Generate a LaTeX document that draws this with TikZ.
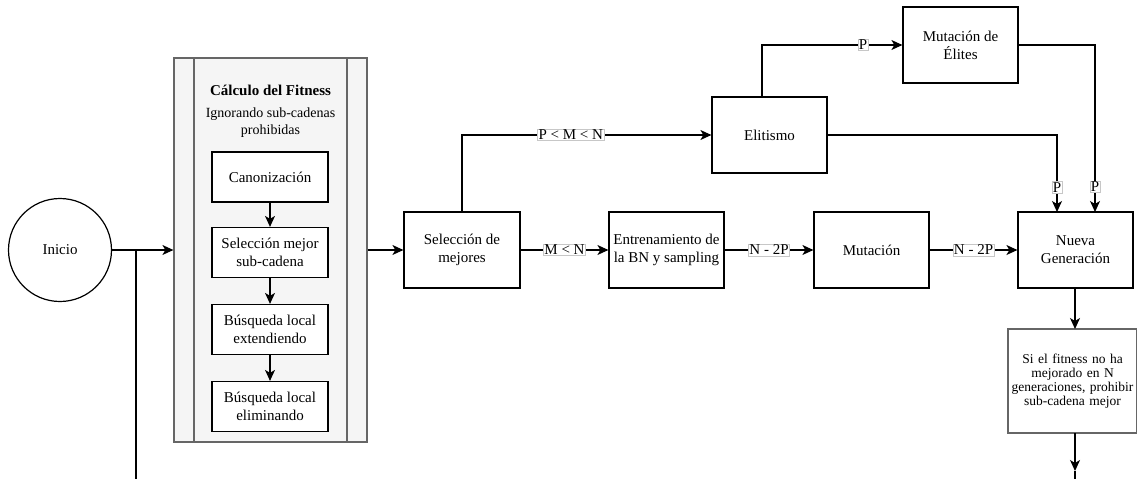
\documentclass[tikz,border=0pt]{standalone}
\usepackage{fontspec}
\setmainfont{LiberationSerif-Regular.ttf}[BoldFont=LiberationSerif-Bold.ttf,ItalicFont=LiberationSerif-Italic.ttf]
\usetikzlibrary{arrows.meta,calc}
\definecolor{boxgray}{HTML}{666666}
\definecolor{contfill}{HTML}{F5F5F5}
\begin{document}
\begin{tikzpicture}[x=1pt,y=-1pt,
  every node/.style={font=\fontsize{15}{18}\selectfont},
  proc/.style={draw=black, line width=1.2pt, fill=white, minimum width=115pt, minimum height=76pt, align=center, inner sep=2pt},
  inner/.style={draw=black, line width=1.2pt, fill=white, minimum width=116pt, minimum height=50pt, align=center, inner sep=2pt},
  conn/.style={line width=1.2pt, -{Stealth[length=11pt,width=10pt,inset=3pt]}},
  plain/.style={line width=1.2pt},
  lbl/.style={fill=white, draw=black!22, line width=0.5pt, inner sep=0.8pt, font=\fontsize{15}{18}\selectfont}
]
\useasboundingbox (0,0) rectangle (1137,479);

% start
\node[draw=black, line width=1.2pt, circle, minimum size=103pt, inner sep=0pt] (inicio) at (60,250) {Inicio};

% container
\node[draw=boxgray, line width=1.2pt, fill=contfill, minimum width=193pt, minimum height=384pt, inner sep=0pt] (cont) at (270.5,250) {};
\draw[boxgray, line width=1.2pt] (194,58) -- (194,442);
\draw[boxgray, line width=1.2pt] (347,58) -- (347,442);
\node[font=\fontsize{15}{18}\selectfont\bfseries] (title) at (270.5,90) {Cálculo del Fitness};
\node[font=\fontsize{14}{17}\selectfont, align=center] (sub) at (270.5,123) {Ignorando sub-cadenas\\prohibidas};

\node[inner] (canon) at (270,177) {Canonización};
\node[inner] (selsub) at (270,252.5) {Selección mejor\\sub-cadena};
\node[inner] (bext) at (270,329.5) {Búsqueda local\\extendiendo};
\node[inner] (belim) at (270,406.5) {Búsqueda local\\eliminando};

% main row
\node[proc, minimum width=116pt] (selmej) at (462,250) {Selección de\\mejores};
\node[proc] (entr) at (666.5,250) {Entrenamiento de\\la BN y sampling};
\node[proc] (mut) at (871.5,250) {Mutación};
\node[proc] (nueva) at (1075.5,250) {Nueva\\Generación};
\node[proc] (elit) at (769.5,135) {Elitismo};
\node[proc] (mutel) at (960.5,45) {Mutación de\\Élites};

\node[draw=boxgray, line width=1.2pt, fill=white, minimum width=129pt, minimum height=104pt, text width=123pt, align=center, inner sep=2pt, font=\fontsize{13.5}{14}\selectfont] (last) at (1072.5,381) {Si el fitness no ha\\mejorado en N\\generaciones, prohibir\\sub-cadena mejor};

% coordinates
\coordinate (J) at (136,250);
\coordinate (Jb) at (136,479);
\coordinate (nvA) at (1075,288);
\coordinate (nvB) at (1075,329);
\coordinate (lsA) at (1075,433);
\coordinate (endA) at (1075,471);
\coordinate (endB) at (1075,479);
\coordinate (elA) at (762,97);
\coordinate (ngL) at (1057,212);
\coordinate (ngR) at (1095,212);

% connectors
\draw[conn] (inicio.east) -- (cont.west);
\draw[plain] (J) -- (Jb);
\draw[conn] (canon) -- (selsub);
\draw[conn] (selsub) -- (bext);
\draw[conn] (bext) -- (belim);
\draw[conn] (cont.east) -- (selmej.west);

\draw[conn] (selmej.north) |- node[lbl, pos=0.718] {P < M < N} (elit.west);
\draw[conn] (selmej.east) -- node[lbl, pos=0.5] {M < N} (entr.west);
\draw[conn] (entr.east) -- node[lbl, pos=0.5] {N - 2P} (mut.west);
\draw[conn] (mut.east) -- node[lbl, pos=0.5] {N - 2P} (nueva.west);

\draw[conn] (elA) |- node[lbl, pos=0.86] {P} (mutel.west);
\draw[conn] (elit.east) -| node[lbl, pos=0.84] {P} (ngL);
\draw[conn] (mutel.east) -| node[lbl, pos=0.925] {P} (ngR);

\draw[conn] (nvA) -- (nvB);
\draw[conn] (lsA) -- (endA);
\draw[plain] (endA) -- (endB);
\end{tikzpicture}
\end{document}
